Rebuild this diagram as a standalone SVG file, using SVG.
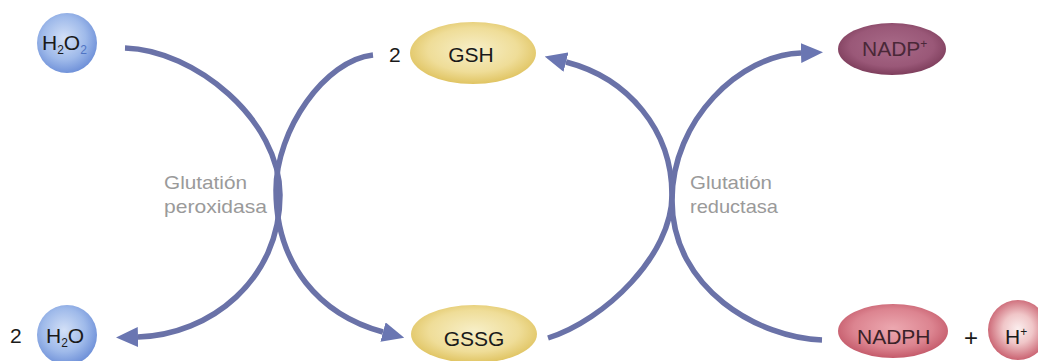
<svg xmlns="http://www.w3.org/2000/svg" width="1038" height="361" viewBox="0 0 1038 361">
<style>
.lbl{font-family:"Liberation Sans",Arial,sans-serif;font-size:21px;fill:#1a1a1a}
.enz{font-family:"Liberation Sans",Arial,sans-serif;font-size:19px;fill:#9a9a9a}
.sub{font-size:12px}
.conn{fill:none;stroke:#6a72a8;stroke-width:5.5;stroke-linecap:butt}
</style>
<defs>
<radialGradient id="gBlue" cx="45%" cy="42%" r="60%">
<stop offset="0" stop-color="#d3e0f7"/>
<stop offset="0.6" stop-color="#9fbaea"/>
<stop offset="1" stop-color="#6d8fd8"/>
</radialGradient>
<radialGradient id="gYel" cx="50%" cy="45%" r="55%">
<stop offset="0" stop-color="#f7efc8"/>
<stop offset="0.65" stop-color="#efdd98"/>
<stop offset="1" stop-color="#e0c462"/>
</radialGradient>
<radialGradient id="gMauve" cx="50%" cy="45%" r="55%">
<stop offset="0" stop-color="#a86a88"/>
<stop offset="0.7" stop-color="#9a5878"/>
<stop offset="1" stop-color="#7e3e5c"/>
</radialGradient>
<radialGradient id="gPink" cx="50%" cy="45%" r="55%">
<stop offset="0" stop-color="#eca8b0"/>
<stop offset="0.65" stop-color="#dc8490"/>
<stop offset="1" stop-color="#c45a6a"/>
</radialGradient>
<radialGradient id="gH" cx="50%" cy="48%" r="55%">
<stop offset="0" stop-color="#fbeeee"/>
<stop offset="0.45" stop-color="#f0c6c8"/>
<stop offset="1" stop-color="#c65868"/>
</radialGradient>
<marker id="arr" viewBox="0 0 22 20" refX="0" refY="10" markerWidth="22" markerHeight="20" markerUnits="userSpaceOnUse" orient="auto">
<path d="M0,0 L22,10 L0,20 Z" fill="#6a76b2"/>
</marker>
</defs>

<g id="connectors">
<path class="conn" d="M125,48 C195,50 280,120 280,195 C280,280 210,335 138,337" marker-end="url(#arr)"/>
<path class="conn" d="M373,55 C325,60 276,130 276,190 C276,265 320,315 383,332" marker-end="url(#arr)"/>
<path class="conn" d="M548,338 C605,320 672,255 672,195 C672,130 628,78 566,62" marker-end="url(#arr)"/>
<path class="conn" d="M822,340 C760,338 672,290 672,200 C672,120 740,55 801,53" marker-end="url(#arr)"/>
</g>

<g id="n-h2o2">
<circle cx="67" cy="43" r="30" fill="url(#gBlue)"/>
<text class="lbl" x="42" y="50">H<tspan class="sub" dy="4">2</tspan><tspan dy="-4">O</tspan><tspan class="sub" dy="4" fill="#4f74c4">2</tspan></text>
</g>

<g id="n-h2o">
<text class="lbl" x="10" y="343">2</text>
<circle cx="67" cy="335" r="30" fill="url(#gBlue)"/>
<text class="lbl" x="46" y="343">H<tspan class="sub" dy="4">2</tspan><tspan dy="-4">O</tspan></text>
</g>

<g id="n-gsh">
<text class="lbl" x="389" y="62">2</text>
<ellipse cx="473" cy="53" rx="63" ry="31" fill="url(#gYel)"/>
<text class="lbl" x="471" y="62" text-anchor="middle">GSH</text>
</g>

<g id="n-gssg">
<ellipse cx="474" cy="334" rx="63" ry="29" fill="url(#gYel)"/>
<text class="lbl" x="474" y="346" text-anchor="middle">GSSG</text>
</g>

<g id="n-nadp">
<ellipse cx="892" cy="49" rx="54" ry="26" fill="url(#gMauve)"/>
<text class="lbl" x="862" y="56" style="fill:#4a2838">NADP<tspan class="sub" dy="-8">+</tspan></text>
</g>

<g id="n-nadph">
<ellipse cx="893" cy="331" rx="55" ry="27" fill="url(#gPink)"/>
<text class="lbl" x="857" y="344" style="fill:#3a2228">NADPH</text>
</g>

<g id="n-plus">
<text class="lbl" x="971" y="346" text-anchor="middle" style="font-size:24px">+</text>
</g>

<g id="n-h">
<circle cx="1018" cy="330" r="30" fill="url(#gH)"/>
<text class="lbl" x="1005" y="344">H<tspan class="sub" dy="-8">+</tspan></text>
</g>

<g id="enzymes">
<text class="enz" x="164" y="189" textLength="83" lengthAdjust="spacingAndGlyphs">Glutatión</text>
<text class="enz" x="164" y="213" textLength="103" lengthAdjust="spacingAndGlyphs">peroxidasa</text>
<text class="enz" x="690" y="189" textLength="82" lengthAdjust="spacingAndGlyphs">Glutatión</text>
<text class="enz" x="690" y="213" textLength="88" lengthAdjust="spacingAndGlyphs">reductasa</text>
</g>
</svg>
